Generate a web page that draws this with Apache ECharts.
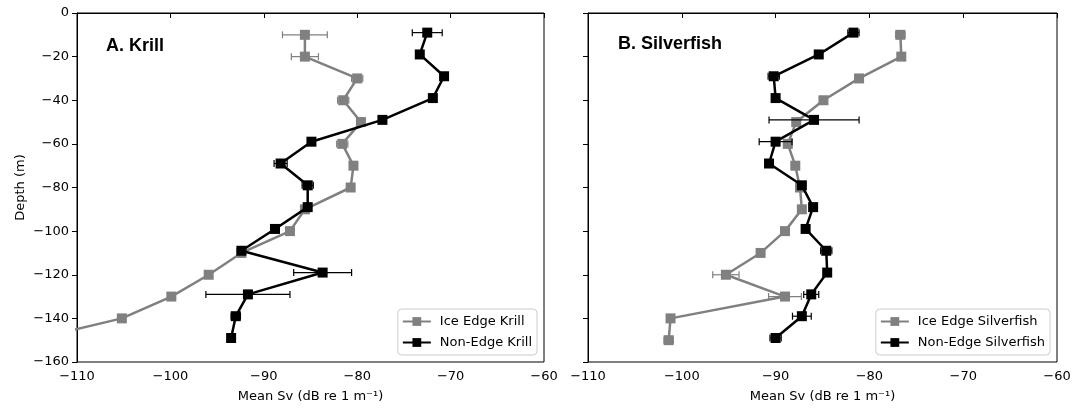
<!DOCTYPE html>
<html><head><meta charset="utf-8">
<script src="https://cdn.jsdelivr.net/npm/echarts@6/dist/echarts.min.js"></script>
<style>html,body{margin:0;padding:0;background:#fff}#c{width:1084px;height:408px}</style>
</head><body><div id="c"></div>
<script>
// ---- Data ----
const panelTitles = ['A. Krill', 'B. Silverfish'];
const seriesNames = ['Ice Edge Krill', 'Non-Edge Krill', 'Ice Edge Silverfish', 'Non-Edge Silverfish'];
const xAxisName = 'Mean Sv (dB re 1 m\u207B\u00B9)';
const yAxisName = 'Depth (m)';
const xMin = -110, xMax = -60, xStep = 10;
const yMin = -160, yMax = 0, yStep = 20;

const depthIce = [-10, -20, -30, -40, -50, -60, -70, -80, -90, -100, -110, -120, -130, -140, -150];
const depthNon = [-9, -19, -29, -39, -49, -59, -69, -79, -89, -99, -109, -119, -129, -139, -149];

const svIceKrill = [-85.6, -85.6, -80.0, -81.5, -79.6, -81.6, -80.4, -80.7, -85.6, -87.2, -92.4, -95.9, -99.9, -105.2, -115.0];
const errIceKrill = [2.4, 1.45, 0.6, 0.6, 0.2, 0.6, 0.2, 0.2, 0.2, 0.2, 0.2, 0.2, 0.2, 0.2, 0.2];
const svNonKrill = [-72.5, -73.3, -70.7, -71.9, -77.3, -84.9, -88.2, -85.3, -85.3, -88.8, -92.4, -83.7, -91.7, -93.0, -93.5];
const errNonKrill = [1.6, 0.2, 0.2, 0.2, 0.2, 0.2, 0.7, 0.6, 0.2, 0.2, 0.2, 3.1, 4.5, 0.5, 0.2];

const svIceFish = [-76.7, -76.6, -81.1, -84.9, -87.8, -88.7, -87.9, -87.4, -87.2, -89.0, -91.6, -95.3, -89.0, -101.2, -101.4];
const errIceFish = [0.5, 0.2, 0.2, 0.2, 0.2, 0.4, 0.2, 0.2, 0.2, 0.2, 0.2, 1.4, 1.75, 0.2, 0.5];
const svNonFish = [-81.7, -85.4, -90.2, -90.0, -85.9, -90.0, -90.7, -87.2, -86.0, -86.8, -84.6, -84.5, -86.2, -87.2, -90.0];
const errNonFish = [0.6, 0.2, 0.6, 0.2, 4.8, 1.75, 0.2, 0.2, 0.2, 0.2, 0.6, 0.2, 0.8, 1.0, 0.6];

const GREY = '#808080', BLACK = '#000000';
const TICK_FONT = 'DejaVu Sans';
const FS = 13;

// ---- Build ----
const chart = echarts.init(document.getElementById('c'), null, {renderer: 'canvas'});
const minus = v => String(v).replace('-', '\u2212');

function pairs(xs, ys) { return xs.map((x, i) => [x, ys[i]]); }
function triples(xs, ys, es) { return xs.map((x, i) => [x, ys[i], es[i]]); }

function errRender(params, api) {
  const x = api.value(0), y = api.value(1), e = api.value(2);
  const p1 = api.coord([x - e, y]);
  const p2 = api.coord([x + e, y]);
  const color = api.visual('color');
  const h = 3.5, lw = 1.2;
  const st = {stroke: color, lineWidth: lw};
  return {type: 'group', children: [
    {type: 'line', shape: {x1: p1[0], y1: p1[1], x2: p2[0], y2: p2[1]}, style: st},
    {type: 'line', shape: {x1: p1[0], y1: p1[1] - h, x2: p1[0], y2: p1[1] + h}, style: st},
    {type: 'line', shape: {x1: p2[0], y1: p2[1] - h, x2: p2[0], y2: p2[1] + h}, style: st}
  ]};
}

function lineSeries(name, idx, xs, ys, color, z) {
  return {
    name: name, type: 'line', xAxisIndex: idx, yAxisIndex: idx,
    data: pairs(xs, ys), symbol: 'rect', symbolSize: 10,
    lineStyle: {color: color, width: 2.5}, itemStyle: {color: color},
    clip: true, animation: false, z: z
  };
}
function errSeries(name, idx, xs, ys, es, color, z) {
  return {
    name: name + ' err', type: 'custom', xAxisIndex: idx, yAxisIndex: idx,
    data: triples(xs, ys, es), renderItem: errRender,
    itemStyle: {color: color}, clip: true, animation: false, z: z
  };
}

const gridLeft = [77, 588], gridWidth = [467, 469];

function xAxis(idx) {
  return {
    gridIndex: idx, type: 'value', min: xMin, max: xMax, interval: xStep,
    name: xAxisName, nameLocation: 'middle', nameGap: 28,
    nameTextStyle: {fontFamily: TICK_FONT, fontSize: FS, color: '#000'},
    axisLine: {show: true, lineStyle: {color: '#000', width: 1}},
    axisTick: {show: true, inside: false, length: 5, lineStyle: {color: '#000'}},
    axisLabel: {show: true, margin: 8, fontFamily: TICK_FONT, fontSize: FS, color: '#000', formatter: minus},
    splitLine: {show: false}
  };
}
function yAxis(idx) {
  return {
    gridIndex: idx, type: 'value', min: yMin, max: yMax, interval: yStep,
    name: idx === 0 ? yAxisName : '', nameLocation: 'middle', nameGap: 50,
    nameTextStyle: {fontFamily: TICK_FONT, fontSize: FS, color: '#000'},
    axisLine: {show: true, lineStyle: {color: '#000', width: 1}},
    axisTick: {show: true, inside: false, length: 5, lineStyle: {color: '#000'}},
    axisLabel: {show: idx === 0, margin: 8, fontFamily: TICK_FONT, fontSize: FS, color: '#000', formatter: minus},
    splitLine: {show: false}
  };
}
function legend(idx, names, right) {
  return {
    orient: 'vertical', right: right, bottom: 53,
    data: names, itemWidth: 28, itemHeight: 11, itemGap: 8,
    padding: [6, 5, 6, 4],
    textStyle: {fontFamily: TICK_FONT, fontSize: FS, color: '#000', padding: [0, 0, 0, 4]},
    borderColor: '#cccccc', borderWidth: 1, borderRadius: 4,
    backgroundColor: 'rgba(255,255,255,0.8)', selectedMode: false
  };
}

const option = {
  backgroundColor: '#fff',
  animation: false,
  title: [
    {text: panelTitles[0], left: 106, top: 37, padding: 0,
     textStyle: {fontFamily: 'Liberation Sans', fontWeight: 'bold', fontSize: 18, color: '#000'}},
    {text: panelTitles[1], left: 618, top: 35, padding: 0,
     textStyle: {fontFamily: 'Liberation Sans', fontWeight: 'bold', fontSize: 18, color: '#000'}}
  ],
  grid: [
    {left: gridLeft[0], top: 13, width: gridWidth[0], height: 349, show: true, borderColor: '#000', borderWidth: 1, backgroundColor: 'transparent'},
    {left: gridLeft[1], top: 13, width: gridWidth[1], height: 349, show: true, borderColor: '#000', borderWidth: 1, backgroundColor: 'transparent'}
  ],
  xAxis: [xAxis(0), xAxis(1)],
  yAxis: [yAxis(0), yAxis(1)],
  legend: [
    legend(0, [seriesNames[0], seriesNames[1]], 1084 - 537),
    legend(1, [seriesNames[2], seriesNames[3]], 1084 - 1050)
  ],
  series: [
    errSeries(seriesNames[0], 0, svIceKrill, depthIce, errIceKrill, GREY, 2),
    lineSeries(seriesNames[0], 0, svIceKrill, depthIce, GREY, 3),
    errSeries(seriesNames[1], 0, svNonKrill, depthNon, errNonKrill, BLACK, 4),
    lineSeries(seriesNames[1], 0, svNonKrill, depthNon, BLACK, 5),
    errSeries(seriesNames[2], 1, svIceFish, depthIce, errIceFish, GREY, 2),
    lineSeries(seriesNames[2], 1, svIceFish, depthIce, GREY, 3),
    errSeries(seriesNames[3], 1, svNonFish, depthNon, errNonFish, BLACK, 4),
    lineSeries(seriesNames[3], 1, svNonFish, depthNon, BLACK, 5)
  ]
};
chart.setOption(option);
</script></body></html>
